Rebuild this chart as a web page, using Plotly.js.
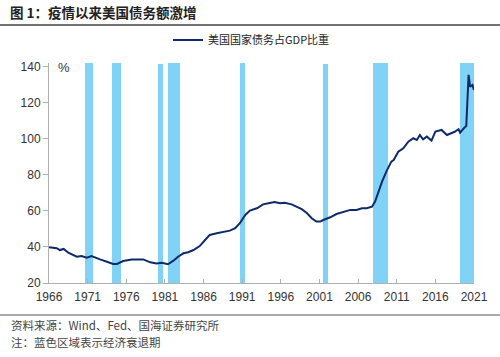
<!DOCTYPE html>
<html>
<head>
<meta charset="utf-8">
<script src="https://cdn.plot.ly/plotly-3.0.1.min.js"></script>
<style>html,body{margin:0;padding:0;background:#fff;}#chart{width:500px;height:357px;}</style>
</head>
<body>
<div id="chart"></div>
<script>
// Debt / GDP (%)
const years = [1966.0,1966.5,1967.0,1967.4,1967.9,1968.5,1969.1,1969.6,1970.2,1970.9,1971.5,1971.95,1972.6,1973.5,1974.3,1974.8,1975.6,1976.7,1977.1,1977.8,1978.2,1979.1,1979.9,1980.6,1981.4,1982.1,1982.7,1983.4,1984.0,1984.7,1985.5,1986.2,1986.8,1987.7,1988.6,1989.4,1990.1,1990.7,1991.4,1992.0,1992.9,1993.7,1994.4,1995.2,1995.9,1996.5,1997.4,1998.1,1998.7,1999.4,2000.0,2000.6,2001.1,2001.5,2002.4,2003.2,2004.1,2005.0,2005.8,2006.5,2007.1,2007.8,2008.2,2008.6,2009.1,2009.7,2010.3,2010.6,2011.2,2011.85,2012.5,2013.15,2013.6,2014.0,2014.4,2014.9,2015.5,2016.0,2016.6,2016.8,2017.5,2018.1,2018.5,2019.0,2019.2,2019.8,2020.0,2020.3,2020.5,2020.8,2021.0];
const debtRatio = [39.8,39.5,39.3,38.3,38.9,36.8,35.6,34.6,35.0,34.1,35.0,34.1,33.1,31.8,30.6,30.6,32.2,33.1,33.1,32.8,33.1,31.5,30.8,31.3,30.4,32.4,34.6,36.5,37.1,38.3,40.5,43.9,46.7,47.6,48.5,49.1,50.4,53.2,57.8,60.2,61.5,63.7,64.3,65.0,64.3,64.6,63.7,62.4,61.0,58.7,56.0,54.1,54.1,55.0,56.5,58.3,59.6,60.6,60.6,61.5,61.5,62.4,65.2,70.7,76.3,82.3,87.4,88.3,92.9,94.8,98.5,100.4,99.4,102.2,99.8,101.3,99.1,104.1,104.6,105.0,102.2,103.1,104.0,105.4,103.5,106.5,107.2,135.6,129.0,130.0,127.2];

// Recession periods (blue areas)
const recStart = [1970.66,1974.1,1980.15,1981.44,1990.7,2001.5,2007.97,2019.2];
const recEnd   = [1971.7,1975.3,1980.7,1982.95,1991.4,2002.15,2009.83,2021.0];
const recTop   = [142.2,142.2,141.5,142.2,142.2,141.8,142.2,142.2];

const yTicks = [20,40,60,80,100,120,140];
const xTicks = [1966,1971,1976,1981,1986,1991,1996,2001,2006,2011,2016,2021];

const axisBase = 20;
const recMid = recStart.map((s,i)=>(s+recEnd[i])/2);
const recWidth = recStart.map((s,i)=>recEnd[i]-s);
const recLen = recTop.map(t=>t-axisBase);

const CJK = '"Noto Sans CJK SC", "Liberation Sans", sans-serif';

const traces = [
  {
    type:'bar', x: recMid, y: recLen, base: axisBase, width: recWidth,
    marker:{color:'#80d3f6', line:{width:0}}, showlegend:false, hoverinfo:'skip', cliponaxis:false
  },
  {
    type:'scatter', mode:'lines', x: years, y: debtRatio, name:'美国国家债务占GDP比重',
    line:{color:'#0f2a6b', width:2}
  }
];

const L=49, R=474, T=63, B=283;
const W=R-L, H=B-T;
const px = v => (v-L)/W;
const py = v => (B-v)/H;

const layout = {
  width:500, height:357,
  margin:{l:L, r:500-R, t:T, b:357-B, pad:0},
  paper_bgcolor:'#fff', plot_bgcolor:'#fff',
  showlegend:true,
  legend:{x:px(168), y:py(40), xanchor:'left', yanchor:'middle', orientation:'h',
          font:{family:CJK, size:11, color:'#222'}, bgcolor:'rgba(0,0,0,0)'},
  title:{text:'<b>图 1：疫情以来美国债务额激增</b>', x:0.02, xref:'container', xanchor:'left',
         y:1-13/357, yref:'container', yanchor:'middle',
         font:{family:CJK, size:13.5, color:'#222'}},
  xaxis:{range:[1966,2021], tickvals:xTicks, ticktext:xTicks.map(String),
         showgrid:false, zeroline:false, showline:true, linecolor:'#b0b0b0', linewidth:1,
         ticks:'inside', ticklen:4, tickcolor:'#b0b0b0', ticklabelstandoff:3,
         tickfont:{family:'"Liberation Sans", Arial, sans-serif', size:12, color:'#333'}},
  yaxis:{range:[20,142.2], tickvals:yTicks, showgrid:false, zeroline:false,
         showline:true, linecolor:'#b0b0b0', linewidth:1,
         ticks:'outside', ticklen:5, tickcolor:'#b0b0b0',
         tickfont:{family:'"Liberation Sans", Arial, sans-serif', size:12, color:'#333'}},
  bargap:0,
  shapes:[
    {type:'line', xref:'paper', yref:'paper', x0:px(0), x1:px(500), y0:py(25), y1:py(25), line:{color:'#444', width:1.5}},
    {type:'line', xref:'paper', yref:'paper', x0:px(0), x1:px(500), y0:py(315), y1:py(315), line:{color:'#555', width:1}}
  ],
  annotations:[
    {text:'%', xref:'paper', yref:'paper', x:px(56), y:py(67), xanchor:'left', yanchor:'middle', showarrow:false,
     font:{family:'"Liberation Sans", Arial, sans-serif', size:13, color:'#333'}},
    {text:'资料来源：Wind、Fed、国海证券研究所', xref:'paper', yref:'paper', x:px(9), y:py(325), xanchor:'left', yanchor:'middle', showarrow:false,
     font:{family:CJK, size:11.5, color:'#444'}},
    {text:'注：蓝色区域表示经济衰退期', xref:'paper', yref:'paper', x:px(9), y:py(342), xanchor:'left', yanchor:'middle', showarrow:false,
     font:{family:CJK, size:11.5, color:'#444'}}
  ]
};

Plotly.newPlot('chart', traces, layout, {displayModeBar:false, staticPlot:true});
</script>
</body>
</html>
